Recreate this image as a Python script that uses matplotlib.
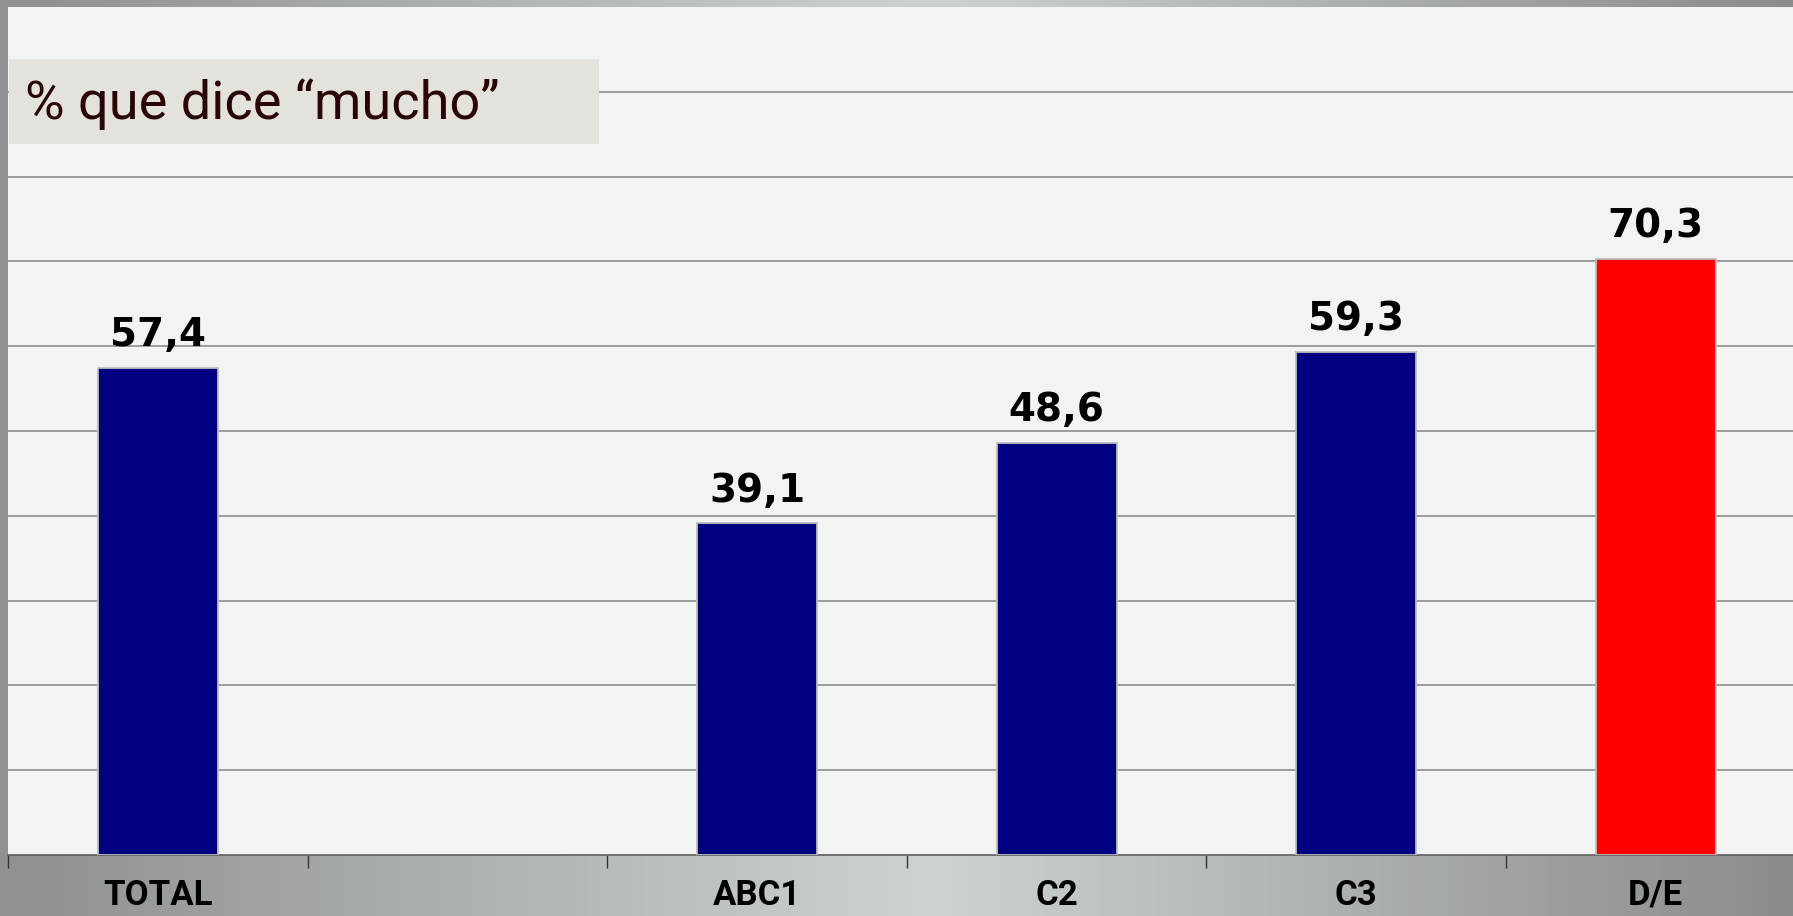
import matplotlib.pyplot as plt
import numpy as np
from matplotlib.colors import LinearSegmentedColormap

categories = ['TOTAL', '', 'ABC1', 'C2', 'C3', 'D/E']
values = [57.4, np.nan, 39.1, 48.6, 59.3, 70.3]
bar_colors = ['#000080', '#000080', '#000080', '#000080', '#000080', '#ff0000']
title = '% que dice \u201cmucho\u201d'

W, H = 1793, 916
fig = plt.figure(figsize=(W / 100, H / 100), dpi=100)

# gray gradient behind everything
bg = fig.add_axes([0, 0, 1, 1], zorder=-10)
cmap = LinearSegmentedColormap.from_list('bg', [(0, '#8e9192'), (0.52, '#ccd3d2'), (1, '#8a8c8d')])
bg.imshow(np.linspace(0, 1, 256)[None, :], aspect='auto', cmap=cmap, extent=[0, 1, 0, 1])
bg.axis('off')

# plot area in pixel coords
left, top, bottom = 8, 7, 855
slot = 299.6
ax = fig.add_axes([left / W, (H - bottom) / H, 6 * slot / W, (bottom - top) / H])
ax.set_facecolor('#f2f4f3')

x = np.arange(len(categories))
ax.bar(x, values, width=0.4, color=bar_colors, edgecolor='#bdbdbd', linewidth=1.3, zorder=3)

for xi, v in zip(x, values):
    if np.isnan(v):
        continue
    ax.annotate(f'{v:.1f}'.replace('.', ','), (xi, v), xytext=(0, 10), textcoords='offset points',
                ha='center', va='bottom', fontsize=28, fontweight='bold', color='black', zorder=5)

ax.set_xlim(-0.5, 5.5)
ax.set_ylim(0, 100)
ax.set_yticks(np.arange(10, 100, 10))
ax.yaxis.grid(True, color='#8c8c8c', linewidth=1.2)
ax.set_axisbelow(True)
ax.tick_params(axis='y', left=False, labelleft=False)

ax.set_xticks(np.arange(-0.5, 6, 1))
ax.set_xticklabels([])
ax.set_xticks(x, minor=True)
ax.set_xticklabels(categories, minor=True, fontsize=25, fontweight='bold', family='Roboto')
ax.tick_params(axis='x', which='major', direction='out', length=9, width=1, color='#333333')
ax.tick_params(axis='x', which='minor', length=0, pad=17)

for s in ['top', 'right', 'left']:
    ax.spines[s].set_visible(False)
ax.spines['bottom'].set_color('#666666')
ax.spines['bottom'].set_linewidth(1.3)

# title box
fig.text(25 / W, 1 - 104 / H, title, fontsize=39, color='#2a0505', family='Roboto',
         ha='left', va='center', zorder=20)
box = plt.Rectangle((9 / W, 1 - 144 / H), 590 / W, 85 / H, transform=fig.transFigure,
                    facecolor='#e4e2dc', edgecolor='none', zorder=10)
fig.add_artist(box)

fig.savefig('out.png', dpi=100)
